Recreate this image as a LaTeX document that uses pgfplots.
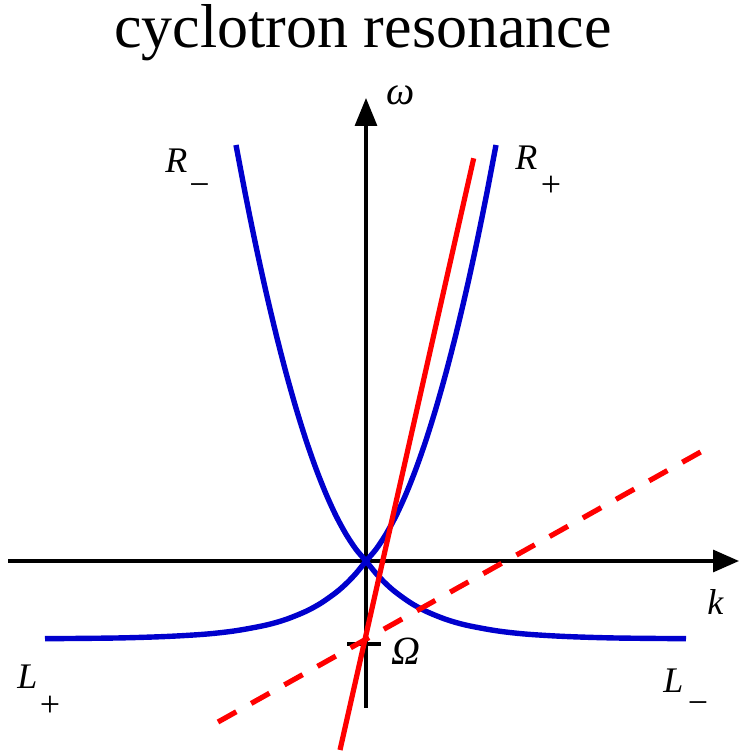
\documentclass[border=0pt]{standalone}
\usepackage{fontspec}
\setmainfont{Liberation Serif}[ItalicFont={Liberation Serif Italic}]
\usepackage{pgfplots}
\pgfplotsset{compat=1.18}
\usetikzlibrary{arrows.meta}
\definecolor{wblue}{RGB}{0,0,205}
\definecolor{wred}{RGB}{255,0,0}

\begin{document}
\begin{tikzpicture}
\begin{axis}[
  x=0.5pt, y=0.5pt,
  xmin=-366, xmax=374, ymin=-195, ymax=561,
  hide axis, clip=false,
  every axis plot/.append style={line cap=butt, line join=round},
]
\path (rel axis cs:0,0) rectangle (rel axis cs:1,1);

% coordinate axes k and omega
\addplot[black, line width=1.6pt, -{Triangle[length=13pt,width=11pt]}]
  coordinates {(-358,0) (373,0)};
\addplot[black, line width=1.6pt, -{Triangle[length=14pt,width=11pt]}]
  coordinates {(0,-147) (0,463)};
% tick marking Omega
\addplot[black, line width=1.6pt] coordinates {(-19,-83) (15,-83)};

% R+ branch
\addplot[wblue, line width=2.7pt, smooth] coordinates {
  (0,0) (10,11.7) (20,26.8) (30,45.2) (40,67.1) (50,92.3) (60,120.9)
  (70,152.9) (80,188.3) (90,227.1) (100,269.2) (110,314.7) (120,363.6)
  (130,416.0)};
% R- branch
\addplot[wblue, line width=2.7pt, smooth] coordinates {
  (0,0) (-10,11.7) (-20,26.8) (-30,45.2) (-40,67.1) (-50,92.3) (-60,120.9)
  (-70,152.9) (-80,188.3) (-90,227.1) (-100,269.2) (-110,314.7) (-120,363.6)
  (-130,416.0)};
% L- branch
\addplot[wblue, line width=2.7pt, smooth] coordinates {
  (0,0) (10,-12.4) (20,-22.8) (30,-31.5) (45,-42.1) (60,-50.3) (80,-58.4)
  (100,-64.1) (130,-69.7) (160,-73.1) (200,-75.5) (250,-77.0) (320,-77.7)};
% L+ branch
\addplot[wblue, line width=2.7pt, smooth] coordinates {
  (0,0) (-10,-12.4) (-20,-22.8) (-30,-31.5) (-45,-42.1) (-60,-50.3) (-80,-58.4)
  (-100,-64.1) (-130,-69.7) (-160,-73.1) (-200,-75.5) (-250,-77.0) (-321,-77.7)};

% resonance lines
\addplot[wred, line width=2.6pt] coordinates {(-26,-189) (107.7,402.7)};
\addplot[wred, line width=2.6pt, dash pattern=on 10.5pt off 8.5pt]
  coordinates {(-148,-161) (340,112)};

% labels
\node[anchor=base, inner sep=0pt, font=\fontsize{31}{34}\selectfont]
  at (axis cs:-3,513) {cyclotron resonance};
\node[anchor=base west, inner sep=0pt, font=\fontsize{20}{22}\selectfont\itshape]
  at (axis cs:20,456) {ω};
\node[anchor=base west, inner sep=0pt, font=\fontsize{18}{20}\selectfont\itshape]
  at (axis cs:341,-54) {k};
\node[anchor=base west, inner sep=0pt, font=\fontsize{20}{22}\selectfont\itshape]
  at (axis cs:25,-104) {Ω};
\node[anchor=base west, inner sep=0pt, font=\fontsize{18}{20}\selectfont\itshape]
  at (axis cs:-201,388) {R};
\node[inner sep=0pt, font=\fontsize{18}{20}\selectfont]
  at (axis cs:-166.5,371) {−};
\node[anchor=base west, inner sep=0pt, font=\fontsize{18}{20}\selectfont\itshape]
  at (axis cs:149,391) {R};
\node[inner sep=0pt, font=\fontsize{18}{20}\selectfont]
  at (axis cs:185,375) {+};
\node[anchor=base west, inner sep=0pt, font=\fontsize{18}{20}\selectfont\itshape]
  at (axis cs:-349,-127) {L};
\node[inner sep=0pt, font=\fontsize{18}{20}\selectfont]
  at (axis cs:-316,-145) {+};
\node[anchor=base west, inner sep=0pt, font=\fontsize{18}{20}\selectfont\itshape]
  at (axis cs:297,-132) {L};
\node[inner sep=0pt, font=\fontsize{18}{20}\selectfont]
  at (axis cs:332,-147) {−};
\end{axis}
\end{tikzpicture}
\end{document}
